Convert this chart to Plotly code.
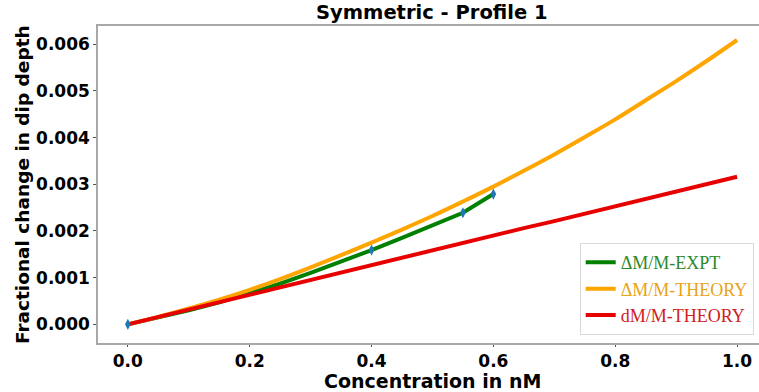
import plotly.graph_objects as go

# Measured fractional change (experiment): data points and the drawn curve
conc_expt = [0.0, 0.4, 0.55, 0.6]
dm_expt = [0.0, 0.00159, 0.00239, 0.00279]
conc_expt_curve = [0.0, 0.05, 0.1, 0.15, 0.2, 0.25, 0.3, 0.35, 0.4, 0.45,
                   0.5, 0.55, 0.6]
dm_expt_curve = [0.0, 0.00014, 0.0003, 0.00047, 0.00066, 0.00087, 0.0011,
                 0.00134, 0.00159, 0.00185, 0.00211, 0.00239, 0.00279]

# Theory curves sampled along concentration
conc_theory = [0.0, 0.05, 0.1, 0.15, 0.2, 0.25, 0.3, 0.35, 0.4, 0.45, 0.5,
               0.55, 0.6, 0.65, 0.7, 0.75, 0.8, 0.85, 0.9, 0.95, 1.0]
dm_theory_big = [0.0, 0.00016, 0.00034, 0.00053, 0.00074, 0.00097, 0.00122,
                 0.00148, 0.00175, 0.00203, 0.00232, 0.00263, 0.00295, 0.00329,
                 0.00364, 0.00401, 0.00439, 0.0048, 0.00521, 0.00564, 0.00609]
dm_theory_small = [0.0, 0.00016, 0.00032, 0.00048, 0.00064, 0.0008, 0.00096,
                   0.00111, 0.00127, 0.00143, 0.00159, 0.00175, 0.0019,
                   0.00206, 0.00221, 0.00237, 0.00252, 0.00268, 0.00284,
                   0.003, 0.00316]

x_ticks = [0.0, 0.2, 0.4, 0.6, 0.8, 1.0]
y_ticks = [0.0, 0.001, 0.002, 0.003, 0.004, 0.005, 0.006]

TICK_FONT = dict(family="DejaVu Sans", size=17, color="black", weight="bold")
LABEL_FONT = dict(family="DejaVu Sans", size=19, color="black")

fig = go.Figure()
fig.add_trace(go.Scatter(
    x=conc_expt_curve, y=dm_expt_curve, mode="lines",
    line=dict(color="#008000", width=4),
    name='<span style="color:#2a8a2a">ΔM/M-EXPT</span>'))
fig.add_trace(go.Scatter(
    x=conc_theory, y=dm_theory_big, mode="lines",
    line=dict(color="#FFA500", width=4, shape="spline"),
    name='<span style="color:#e8a317">ΔM/M-THEORY</span>'))
fig.add_trace(go.Scatter(
    x=conc_theory, y=dm_theory_small, mode="lines",
    line=dict(color="#E80000", width=4),
    name='<span style="color:#d02020">dM/M-THEORY</span>'))
fig.add_trace(go.Scatter(
    x=conc_expt, y=dm_expt, mode="markers",
    marker=dict(symbol="diamond-tall", size=8, color="#1f77b4"),
    showlegend=False))

fig.update_layout(
    width=759, height=392,
    margin=dict(l=98, r=0, t=26, b=49),
    paper_bgcolor="white", plot_bgcolor="white",
    showlegend=True,
    legend=dict(
        x=0.992, y=0.025, xanchor="right", yanchor="bottom",
        bgcolor="white", bordercolor="#d8d8d8", borderwidth=1,
        font=dict(family="Liberation Serif", size=18),
        tracegroupgap=0, itemwidth=30),
    xaxis=dict(
        range=[-0.049, 1.036], tickvals=x_ticks, tickformat=".1f",
        showgrid=False, zeroline=False,
        showline=True, linecolor="#a8a8a8", linewidth=1.5, mirror=True,
        ticks="outside", ticklen=2, tickcolor="#555", tickwidth=1,
        tickfont=TICK_FONT),
    yaxis=dict(
        range=[-0.0004, 0.00639], tickvals=y_ticks, tickformat=".3f",
        showgrid=False, zeroline=False,
        showline=True, linecolor="#a8a8a8", linewidth=1.5,
        ticks="outside", ticklen=3, tickcolor="#555", tickwidth=1,
        tickfont=TICK_FONT),
    annotations=[
        dict(text="<b>Symmetric - Profile 1</b>", xref="paper", yref="paper",
             x=(432 - 98) / 661, y=1, yshift=0, xanchor="center", yanchor="bottom",
             showarrow=False, font=dict(LABEL_FONT, size=19.5)),
        dict(text="<b>Concentration in nM</b>", xref="paper", yref="paper",
             x=(432 - 98) / 661, y=0, yshift=-25, xanchor="center", yanchor="top",
             showarrow=False, font=LABEL_FONT),
        dict(text="<b>Fractional change in dip depth</b>", xref="paper", yref="paper",
             x=0, xshift=-88, y=0.5, xanchor="left", yanchor="middle", textangle=-90,
             showarrow=False, font=dict(LABEL_FONT, size=18.5)),
    ],
)

fig.write_html("out.html")
